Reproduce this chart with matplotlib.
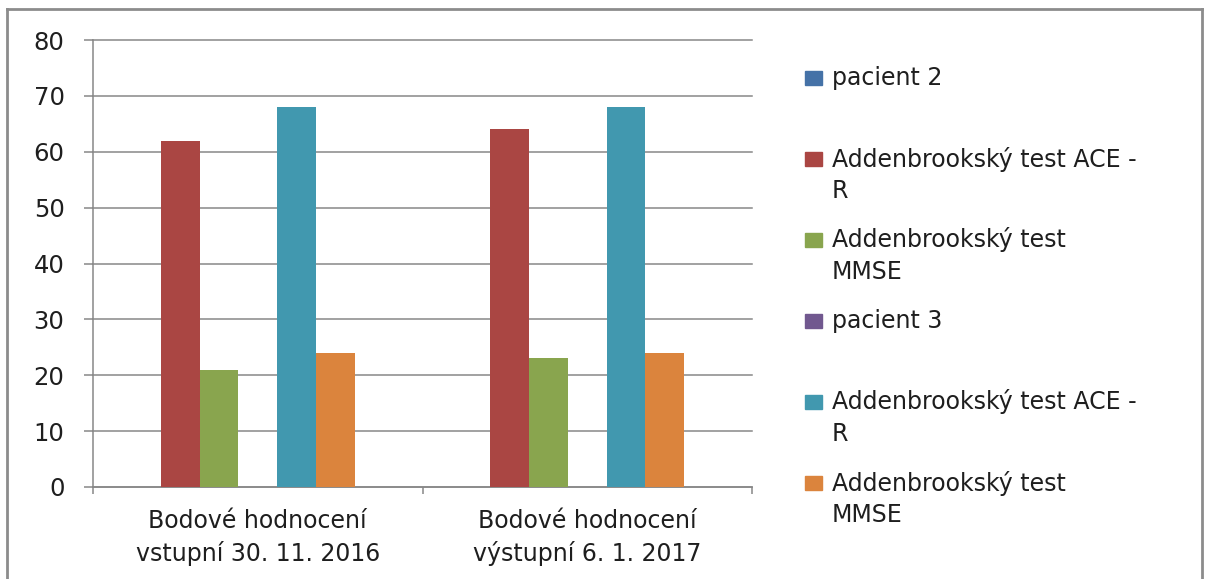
import numpy as np
import matplotlib.pyplot as plt
from matplotlib.patches import Rectangle
from matplotlib.lines import Line2D

categories = ["Bodové hodnocení\nvstupní 30. 11. 2016", "Bodové hodnocení\nvýstupní 6. 1. 2017"]
series_names = ["pacient 2", "Addenbrookský test ACE -\nR", "Addenbrookský test\nMMSE",
                "pacient 3", "Addenbrookský test ACE -\nR", "Addenbrookský test\nMMSE"]
series_values = [[0, 0], [62, 64], [21, 23], [0, 0], [68, 68], [24, 24]]
colors = ["#4572A7", "#AA4643", "#89A54E", "#71588F", "#4198AF", "#DB843D"]
n_slots = 7  # the original chart leaves room for one more (empty) series per group

plt.rcParams['font.family'] = ['DejaVu Sans']
txt = '#1e1e1e'
grey = '#878787'
fs = 17

W, H = 1206, 579
fig = plt.figure(figsize=(W / 100, H / 100), dpi=100)
ax = fig.add_axes([93 / W, 1 - 487 / H, (752 - 93) / W, (487 - 40) / H])

x = np.arange(len(categories))
w = 1 / (n_slots + 1.5)  # gap width 150 %
for i, (vals, c) in enumerate(zip(series_values, colors)):
    ax.bar(x + (i - (n_slots - 1) / 2) * w, vals, w, color=c, zorder=3)

ax.set_xlim(-0.5, len(categories) - 0.5)
ax.set_ylim(0, 80)
ax.set_yticks(range(0, 81, 10))
ax.yaxis.grid(True, color=grey, lw=1.1)
for g in ax.get_ygridlines():
    g.set_clip_on(False)
ax.set_axisbelow(True)
for s in ['top', 'right']:
    ax.spines[s].set_visible(False)
for s in ['left', 'bottom']:
    ax.spines[s].set_color(grey)
    ax.spines[s].set_linewidth(1.1)

ax.set_xticks(x, categories)
ax.set_xticks(np.arange(len(categories) + 1) - 0.5, minor=True)
ax.tick_params(axis='x', which='major', length=0, pad=16, labelsize=fs, labelcolor=txt)
ax.tick_params(axis='x', which='minor', length=5, color=grey, width=1.1)
for lab in ax.get_xticklabels():
    lab.set_linespacing(1.4)
ax.tick_params(axis='y', length=6.5, color=grey, width=1.1, pad=14, labelsize=fs + 0.5, labelcolor=txt)

# legend drawn by hand: square aligned with the first text line
y0, step, lh = 78, 81, 32
for i, (name, c) in enumerate(zip(series_names, colors)):
    yc = y0 + i * step
    fig.patches.append(Rectangle((805 / W, 1 - (yc + 7) / H), 17 / W, 14 / H,
                                 transform=fig.transFigure, color=c, figure=fig))
    for j, line in enumerate(name.split("\n")):
        fig.text(832 / W, 1 - (yc + j * lh) / H, line, fontsize=fs, color=txt,
                 va='center', ha='left')

# outer chart border
for xs, ys in [([7, 7], [9, H]), ([7, 1202], [9, 9]), ([1202, 1202], [9, H])]:
    fig.add_artist(Line2D([v / W for v in xs], [1 - v / H for v in ys],
                          color='#8c8c8c', lw=2, transform=fig.transFigure))

fig.savefig("out.png", dpi=100)
